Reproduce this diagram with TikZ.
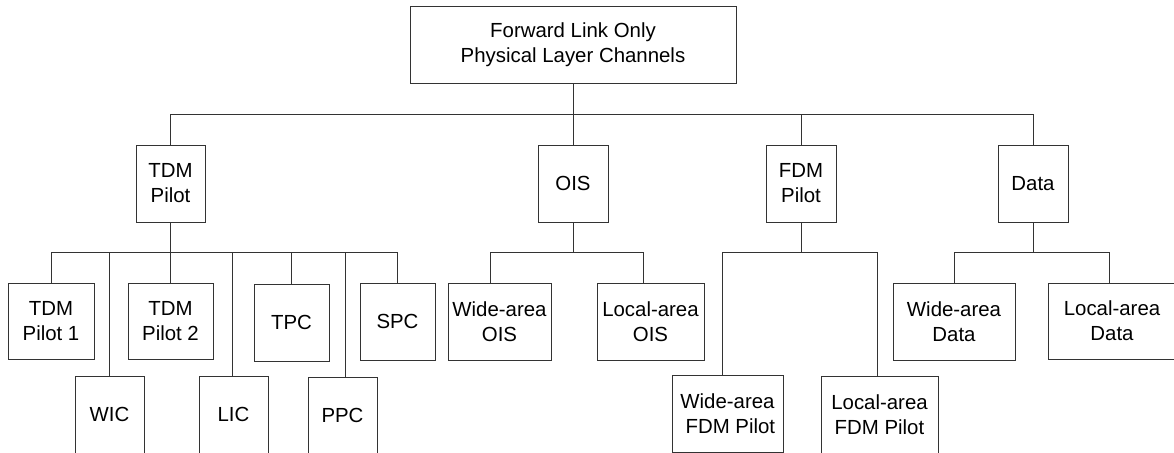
\documentclass[tikz,border=0pt]{standalone}
\usepackage{fontspec}
\setmainfont{Liberation Sans}
\begin{document}
\begin{tikzpicture}[x=1pt,y=-1pt,
  box/.style={draw=black!80, line width=0.9pt, inner sep=0pt, align=center,
    font=\fontsize{20.4}{25}\selectfont, minimum height=77pt},
  conn/.style={draw=black!80, line width=0.9pt}]
\useasboundingbox (0,0) rectangle (1174,452);
\clip (0,0) rectangle (1174,452);
% level 0
\node[box, minimum width=326pt] (top) at (573,44.5) {Forward Link Only\\Physical Layer Channels};
% level 1
\node[box, minimum width=69pt] (tdm) at (170.5,183.5) {TDM\\Pilot};
\node[box, minimum width=70pt] (ois) at (573,183.5) {OIS};
\node[box, minimum width=70pt] (fdm) at (801,183.5) {FDM\\Pilot};
\node[box, minimum width=70pt] (data) at (1033,183.5) {Data};
% level 2 - TDM
\node[box, minimum width=86pt, minimum height=76pt] (tp1) at (51,321) {TDM\\Pilot 1};
\node[box, minimum width=69pt] (wic) at (109.5,414.5) {WIC};
\node[box, minimum width=85pt, minimum height=76pt] (tp2) at (170.5,321) {TDM\\Pilot 2};
\node[box, minimum width=69pt] (lic) at (233.5,414.5) {LIC};
\node[box, minimum width=75pt] (tpc) at (291.5,322.5) {TPC};
\node[box, minimum width=69pt] (ppc) at (342.5,415.5) {PPC};
\node[box, minimum width=75pt] (spc) at (397.5,321.5) {SPC};
% level 2 - OIS
\node[box, minimum width=103pt] (woi) at (499.5,321.5) {Wide-area\\OIS};
\node[box, minimum width=107pt] (loi) at (650.5,321.5) {Local-area\\OIS};
% level 2 - FDM
\node[box, minimum width=111pt] (wfd) at (727.5,413.5) {Wide-area\\\ FDM Pilot};
\node[box, minimum width=117pt] (lfd) at (879.5,414.5) {Local-area\\FDM Pilot};
% level 2 - Data
\node[box, minimum width=122pt] (wda) at (954,321.5) {Wide-area\\Data};
\node[box, minimum width=128pt, minimum height=76pt] (lda) at (1112,321) {Local-area\\Data};
% buses
\coordinate (b1) at (0,114);
\coordinate (b2) at (0,252);
% level 0 -> 1
\draw[conn] (top.south) -- (top.south |- b1);
\draw[conn] (tdm.north) |- (data.north |- b1) -- (data.north);
\draw[conn] (ois.north) -- (ois.north |- b1);
\draw[conn] (fdm.north) -- (fdm.north |- b1);
% TDM children
\draw[conn] (tdm.south) -- (tdm.south |- b2);
\draw[conn] (tp1.north) |- ([xshift=-0.5pt]spc.north |- b2) -- ([xshift=-0.5pt]spc.north);
\draw[conn] ([xshift=-0.5pt]wic.north) -- ([xshift=-0.5pt]wic.north |- b2);
\draw[conn] (tp2.north) -- (tp2.north |- b2);
\draw[conn] ([xshift=-1.5pt]lic.north) -- ([xshift=-1.5pt]lic.north |- b2);
\draw[conn] ([xshift=-0.5pt]tpc.north) -- ([xshift=-0.5pt]tpc.north |- b2);
\draw[conn] ([xshift=2.5pt]ppc.north) -- ([xshift=2.5pt]ppc.north |- b2);
% OIS children
\draw[conn] (ois.south) -- (ois.south |- b2);
\draw[conn] ([xshift=-9.5pt]woi.north) |- ([xshift=-7.5pt]loi.north |- b2) -- ([xshift=-7.5pt]loi.north);
% FDM children
\draw[conn] (fdm.south) -- (fdm.south |- b2);
\draw[conn] ([xshift=-5.5pt]wfd.north) |- ([xshift=-2.5pt]lfd.north |- b2) -- ([xshift=-2.5pt]lfd.north);
% Data children
\draw[conn] (data.south) -- (data.south |- b2);
\draw[conn] (wda.north) |- ([xshift=-3pt]lda.north |- b2) -- ([xshift=-3pt]lda.north);
\end{tikzpicture}
\end{document}
